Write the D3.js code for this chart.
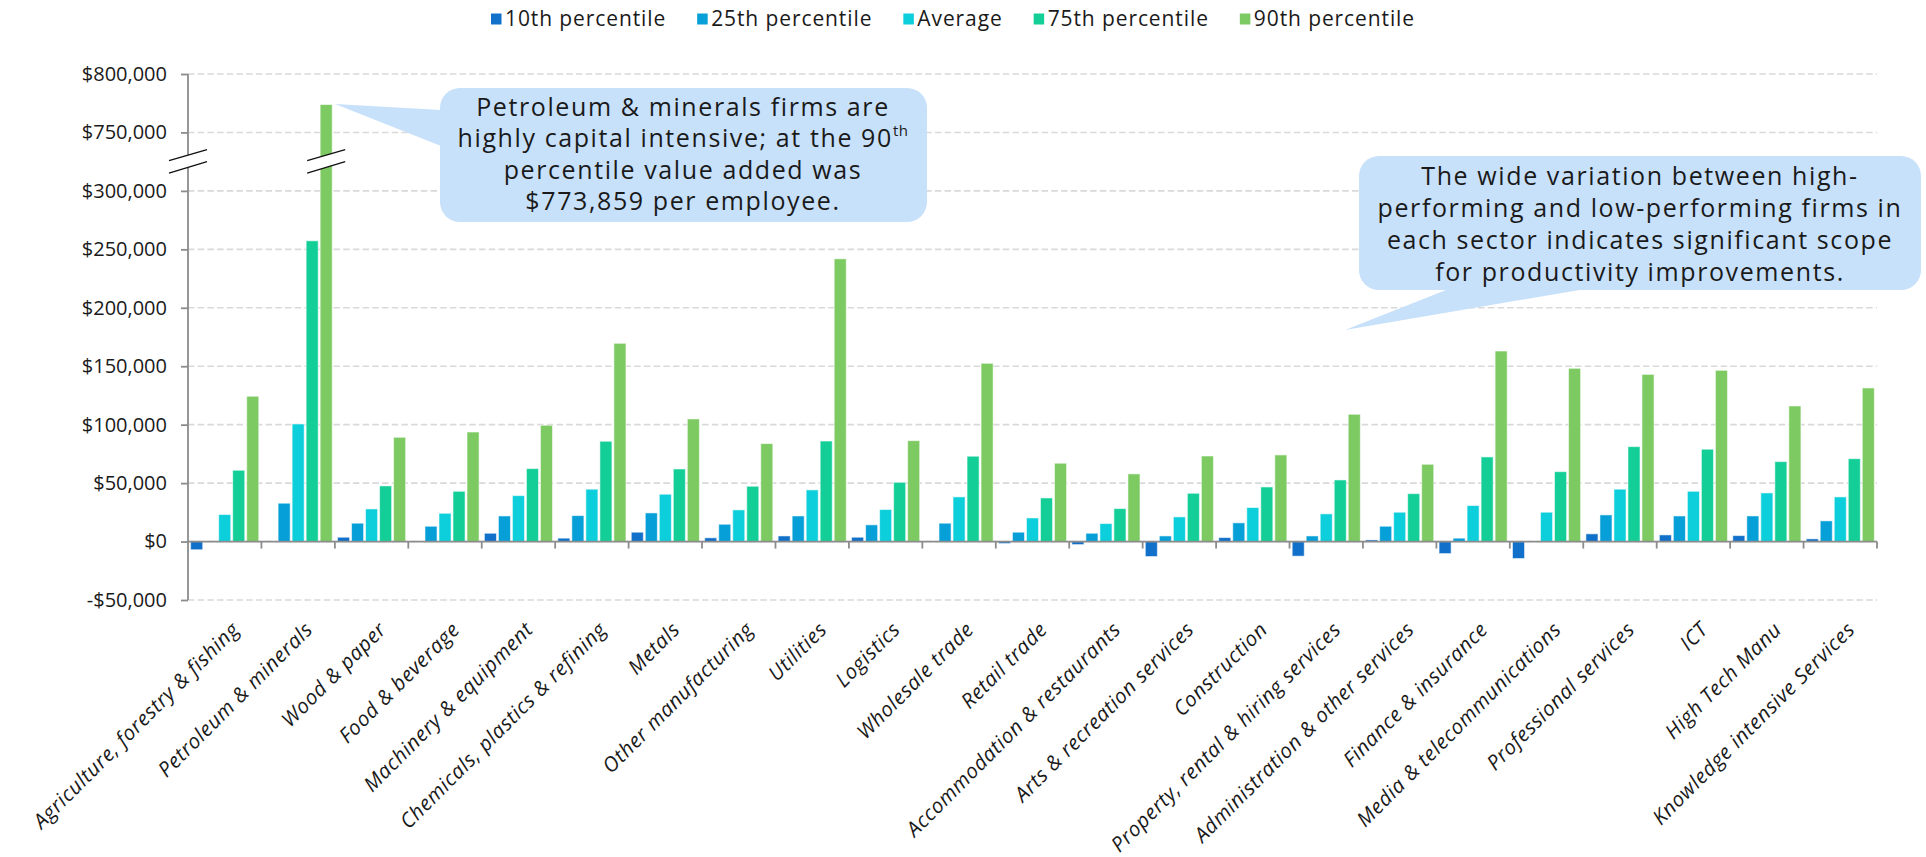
<!DOCTYPE html>
<html>
<head>
<meta charset="utf-8">
<script src="https://cdn.jsdelivr.net/npm/d3@7"></script>
<style>
  body { margin: 0; background: #fff; }
  svg { display: block; font-family: "Open Sans", sans-serif; }
</style>
</head>
<body>
<svg width="1926" height="857"></svg>
<script>
var categories = ["Agriculture, forestry & fishing", "Petroleum & minerals", "Wood & paper", "Food & beverage",
  "Machinery & equipment", "Chemicals, plastics & refining", "Metals", "Other manufacturing", "Utilities",
  "Logistics", "Wholesale trade", "Retail trade", "Accommodation & restaurants", "Arts & recreation services",
  "Construction", "Property, rental & hiring services", "Administration & other services", "Finance & insurance",
  "Media & telecommunications", "Professional services", "ICT", "High Tech Manu", "Knowledge intensive Services"];

var seriesNames = ["10th percentile", "25th percentile", "Average", "75th percentile", "90th percentile"];

var p10 = [-7000, 0, 3700, 0, 7100, 2900, 8000, 3200, 4800, 3700, 0, -1700, -2600, -12800, 3400, -12500, 1400, -10300, -14500, 6600, 5700, 5100, 2300];
var p25 = [0, 32800, 15700, 13100, 21900, 22200, 24500, 14800, 21900, 14300, 15700, 8000, 7100, 4800, 16000, 4800, 13100, 2900, 0, 22800, 21900, 21900, 17700];
var avg = [23100, 100600, 27900, 24200, 39300, 44800, 40500, 27100, 44200, 27400, 38200, 20200, 15400, 21100, 29100, 23700, 25100, 30800, 25100, 44800, 43000, 41600, 38200];
var p75 = [61000, 257300, 47600, 43000, 62400, 85800, 62100, 47300, 86000, 50700, 73000, 37300, 28200, 41300, 46700, 52700, 41000, 72400, 59800, 81200, 79000, 68400, 70900];
var p90 = [124300, 773859, 89200, 93700, 99500, 169600, 104900, 83800, 241900, 86300, 152500, 67000, 57900, 73200, 74100, 108900, 66100, 163000, 148200, 143000, 146500, 116000, 131400];

var yTicks = [-50000, 0, 50000, 100000, 150000, 200000, 250000, 300000, 750000, 800000];
var colors = ["#1170c9", "#079fd8", "#0dcfdb", "#13cf97", "#7dca62"];

var svg = d3.select("svg"),
    width = +svg.attr("width"),
    height = +svg.attr("height");

var margin = {top: 74, right: 49, bottom: 257, left: 188};
var x0left = margin.left, x0right = width - margin.right,
    yTop = margin.top, yBottom = height - margin.bottom;

var series = [p10, p25, avg, p75, p90];

// broken axis: 300k jumps to 750k over one step
var step = (yBottom - yTop) / 9;
var y = d3.scaleLinear()
    .domain([-50000, 300000, 750000, 800000])
    .range([yBottom, yBottom - 7 * step, yBottom - 8 * step, yTop]);

var x0 = d3.scaleBand().domain(categories).range([x0left, x0right]).padding(0);
var x1 = d3.scaleBand().domain(d3.range(5)).range([0, x0.bandwidth()])
    .paddingInner(0.14).paddingOuter(0.19);

// gridlines
svg.append("g")
  .selectAll("line")
  .data(yTicks)
  .enter().append("line")
    .attr("x1", x0left).attr("x2", x0right)
    .attr("y1", function(d) { return y(d); })
    .attr("y2", function(d) { return y(d); })
    .attr("stroke", "#d9d9d9")
    .attr("stroke-width", 1.6)
    .attr("stroke-dasharray", "6.5,3.2");

// bars
var groups = svg.append("g").selectAll("g")
  .data(categories)
  .enter().append("g")
    .attr("transform", function(d) { return "translate(" + x0(d) + ",0)"; });

groups.selectAll("rect")
  .data(function(d, i) {
    return series.map(function(s, k) { return {k: k, value: s[i]}; })
      .filter(function(o) { return o.value !== 0; });
  })
  .enter().append("rect")
    .attr("x", function(d) { return x1(d.k); })
    .attr("width", x1.bandwidth())
    .attr("y", function(d) { return y(Math.max(0, d.value)); })
    .attr("height", function(d) { return Math.abs(y(d.value) - y(0)); })
    .attr("fill", function(d) { return colors[d.k]; })
    .attr("stroke", "#fff")
    .attr("stroke-opacity", 0.55)
    .attr("stroke-width", 1);

// y axis
var yAxis = d3.axisLeft(y).tickValues(yTicks).tickSize(7).tickPadding(14)
    .tickFormat(function(d) { return d < 0 ? "-$" + d3.format(",")(-d) : "$" + d3.format(",")(d); });

var gy = svg.append("g")
    .attr("transform", "translate(" + x0left + ",0)")
    .call(yAxis);
gy.select(".domain").attr("d", "M0," + yTop + "V" + yBottom);
gy.selectAll("path, line").attr("stroke", "#8c8c8c").attr("stroke-width", 1.8);
gy.selectAll("text").attr("font-size", 20).attr("fill", "#1a1a1a")
    .attr("font-family", "Open Sans, sans-serif");

// x axis at zero
var gx = svg.append("g").attr("transform", "translate(0," + y(0) + ")");
gx.append("line").attr("x1", x0left).attr("x2", x0right)
    .attr("stroke", "#8c8c8c").attr("stroke-width", 1.8);
gx.selectAll(".tk")
  .data(categories.slice(1).concat(["end"]))
  .enter().append("line")
    .attr("x1", function(d, i) { return x0left + (i + 1) * x0.bandwidth(); })
    .attr("x2", function(d, i) { return x0left + (i + 1) * x0.bandwidth(); })
    .attr("y1", 0).attr("y2", 7)
    .attr("stroke", "#8c8c8c").attr("stroke-width", 1.8);

// category labels
svg.append("g").selectAll("text")
  .data(categories)
  .enter().append("text")
    .attr("transform", function(d) {
      return "translate(" + (x0(d) + x0.bandwidth() / 2 + 6) + "," + 621 + ") rotate(-45)";
    })
    .attr("dy", "0.68em")
    .attr("text-anchor", "end")
    .attr("font-size", 20.5)
    .attr("letter-spacing", 0.6)
    .attr("font-style", "italic")
    .attr("fill", "#1a1a1a")
    .text(function(d) { return d; });

// break marks
function breakMark(cx, cy) {
  var g = svg.append("g");
  g.append("polygon")
    .attr("points", [[cx - 20, cy - 1], [cx + 20, cy - 12], [cx + 20, cy], [cx - 20, cy + 11.5]].join(" "))
    .attr("fill", "#fff");
  g.append("line").attr("x1", cx - 19).attr("y1", cy - 1).attr("x2", cx + 19).attr("y2", cy - 12)
    .attr("stroke", "#111").attr("stroke-width", 1.3);
  g.append("line").attr("x1", cx - 19).attr("y1", cy + 11.5).attr("x2", cx + 19).attr("y2", cy)
    .attr("stroke", "#111").attr("stroke-width", 1.3);
}
var breakY = (y(300000) + y(750000)) / 2;
breakMark(x0left, breakY);
breakMark(x0(categories[1]) + x1(4) + x1.bandwidth() / 2, breakY);

// legend
var legend = svg.append("g").attr("transform", "translate(491,19)");
var lx = 0;
seriesNames.forEach(function(name, k) {
  var item = legend.append("g").attr("transform", "translate(" + lx + ",0)");
  item.append("rect").attr("x", 0).attr("y", -5.5).attr("width", 10.5).attr("height", 11)
    .attr("fill", colors[k]);
  var t = item.append("text").attr("x", 14).attr("dy", "0.35em")
    .attr("font-size", 21).attr("letter-spacing", 0.9)
    .attr("fill", "#1a1a1a").text(name);
  lx += 14 + t.node().getComputedTextLength() + 31;
});

// callouts
var calloutFill = "#c8e1fa";

function callout(box, tip, base, lines, cx, firstY, lh) {
  var g = svg.append("g");
  g.append("polygon")
    .attr("points", [tip, base[0], base[1]].join(" "))
    .attr("fill", calloutFill);
  g.append("rect")
    .attr("x", box.x).attr("y", box.y).attr("width", box.w).attr("height", box.h)
    .attr("rx", 20).attr("ry", 20)
    .attr("fill", calloutFill);
  var txt = g.append("text").attr("text-anchor", "middle")
    .attr("font-size", 25).attr("letter-spacing", 1.6).attr("fill", "#1a1a1a");
  lines.forEach(function(line, i) {
    var t = txt.append("tspan").attr("x", cx).attr("y", firstY + i * lh).attr("dy", "0.35em");
    line.forEach(function(part) {
      var s = t.append("tspan").text(part.t);
      if (part.sup) s.attr("font-size", 15).attr("letter-spacing", 0.5).attr("dy", "-0.75em");
    });
  });
}

callout({x: 440, y: 88, w: 487, h: 134},
  [335, 104], [[441, 110], [441, 146]],
  [[{t: "Petroleum & minerals firms are"}],
   [{t: "highly capital intensive; at the 90"}, {t: "th", sup: true}],
   [{t: "percentile value added was"}],
   [{t: "$773,859 per employee."}]],
  683, 107, 31.5);

callout({x: 1359, y: 156, w: 562, h: 134},
  [1345, 330], [[1451, 288], [1591, 288]],
  [[{t: "The wide variation between high-"}],
   [{t: "performing and low-performing firms in"}],
   [{t: "each sector indicates significant scope"}],
   [{t: "for productivity improvements."}]],
  1640, 176, 32);
</script>
</body>
</html>
